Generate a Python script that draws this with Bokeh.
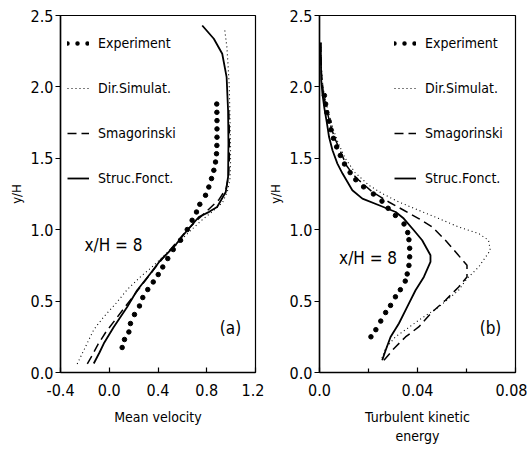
from bokeh.plotting import figure
from bokeh.layouts import row
from bokeh.models import (Range1d, FixedTicker, PrintfTickFormatter, Legend,
                          LegendItem, Label)
from bokeh.embed import file_html
from bokeh.resources import INLINE

# ---------------- data: panel (a) mean velocity ----------------
a_exp_x = [0.106, 0.125, 0.161, 0.174, 0.207, 0.248, 0.275, 0.316, 0.361, 0.402,
           0.439, 0.480, 0.525, 0.585, 0.640, 0.680, 0.716, 0.743, 0.790, 0.817,
           0.839, 0.858, 0.872, 0.880, 0.883, 0.884, 0.884, 0.884, 0.883, 0.882]
a_exp_y = [0.175, 0.231, 0.284, 0.343, 0.406, 0.466, 0.525, 0.581, 0.634, 0.686,
           0.739, 0.798, 0.861, 0.926, 1.001, 1.066, 1.124, 1.178, 1.241, 1.299,
           1.358, 1.416, 1.474, 1.532, 1.590, 1.648, 1.706, 1.764, 1.822, 1.880]

a_dir_x = [-0.263, -0.195, -0.127, -0.045, 0.051, 0.147, 0.256, 0.366, 0.475, 0.557,
           0.650, 0.750, 0.850, 0.930, 0.970, 0.990, 0.995, 0.995, 0.990, 0.985,
           0.975, 0.965, 0.946]
a_dir_y = [0.060, 0.180, 0.300, 0.390, 0.480, 0.580, 0.670, 0.750, 0.840, 0.900,
           0.980, 1.060, 1.130, 1.190, 1.270, 1.350, 1.450, 1.600, 1.800, 2.000,
           2.150, 2.280, 2.410]

a_sma_x = [-0.180, -0.140, -0.090, -0.030, 0.050, 0.130, 0.220, 0.310, 0.400, 0.500,
           0.600, 0.700, 0.800, 0.900, 0.960, 0.980, 0.985, 0.985, 0.980]
a_sma_y = [0.060, 0.120, 0.200, 0.280, 0.370, 0.460, 0.560, 0.660, 0.760, 0.860,
           0.960, 1.050, 1.130, 1.210, 1.290, 1.380, 1.500, 1.700, 1.850]

a_str_x = [-0.127, -0.080, -0.045, 0.037, 0.147, 0.229, 0.338, 0.420, 0.530, 0.640,
           0.735, 0.820, 0.885, 0.956, 0.975, 0.978, 0.975, 0.963, 0.927, 0.858, 0.763]
a_str_y = [0.063, 0.140, 0.203, 0.319, 0.459, 0.576, 0.693, 0.786, 0.879, 0.996,
           1.089, 1.125, 1.159, 1.264, 1.369, 1.603, 1.835, 2.069, 2.232, 2.337, 2.430]

# ---------------- data: panel (b) turbulent kinetic energy ----------------
b_exp_x = [0.0210, 0.0230, 0.0250, 0.0270, 0.0290, 0.0310, 0.0330, 0.0350, 0.0358,
           0.0365, 0.0368, 0.0368, 0.0365, 0.0360, 0.0345, 0.0310, 0.0280, 0.0255,
           0.0220, 0.0180, 0.0148, 0.0125, 0.0102, 0.0085, 0.0070, 0.0057, 0.0047,
           0.0039, 0.0030, 0.0025, 0.0020]
b_exp_y = [0.25, 0.30, 0.36, 0.42, 0.47, 0.53, 0.58, 0.64, 0.69, 0.75, 0.81, 0.87,
           0.93, 0.98, 1.04, 1.10, 1.15, 1.20, 1.25, 1.30, 1.35, 1.40, 1.46, 1.52,
           1.58, 1.64, 1.70, 1.76, 1.82, 1.88, 1.94]

b_dir_x = [0.0255, 0.0270, 0.0310, 0.0360, 0.0405, 0.0487, 0.0568, 0.0602, 0.0650,
           0.0697, 0.0690, 0.0650, 0.0568, 0.0487, 0.0405, 0.0324, 0.0256, 0.0202,
           0.0145, 0.0105, 0.0078, 0.0057, 0.0040, 0.0026, 0.0014, 0.0007, 0.0005]
b_dir_y = [0.100, 0.170, 0.250, 0.310, 0.366, 0.459, 0.576, 0.658, 0.739, 0.856,
           0.926, 0.973, 1.019, 1.078, 1.136, 1.194, 1.253, 1.311, 1.400, 1.500,
           1.600, 1.700, 1.800, 1.900, 2.000, 2.150, 2.310]

b_sma_x = [0.0263, 0.0304, 0.0351, 0.0405, 0.0460, 0.0514, 0.0568, 0.0602, 0.0602,
           0.0561, 0.0514, 0.0460, 0.0405, 0.0344, 0.0283, 0.0216, 0.0161, 0.0134,
           0.0110, 0.0085, 0.0060, 0.0042, 0.0028, 0.0016, 0.0008, 0.0005]
b_sma_y = [0.086, 0.168, 0.249, 0.319, 0.424, 0.506, 0.599, 0.669, 0.751, 0.833,
           0.926, 1.019, 1.078, 1.136, 1.194, 1.264, 1.346, 1.393, 1.450, 1.550,
           1.650, 1.750, 1.850, 1.950, 2.100, 2.310]

b_str_x = [0.0256, 0.0270, 0.0290, 0.0324, 0.0358, 0.0392, 0.0426, 0.0453, 0.0453,
           0.0419, 0.0385, 0.0344, 0.0311, 0.0243, 0.0175, 0.0134, 0.0094, 0.0073,
           0.0053, 0.0039, 0.0030, 0.0020, 0.0012, 0.0007, 0.0005]
b_str_y = [0.086, 0.156, 0.249, 0.343, 0.459, 0.576, 0.669, 0.774, 0.821, 0.926,
           0.996, 1.078, 1.124, 1.171, 1.218, 1.276, 1.393, 1.463, 1.556, 1.649,
           1.750, 1.850, 1.950, 2.050, 2.310]

series_names = ["Experiment", "Dir.Simulat.", "Smagorinski", "Struc.Fonct."]
y_ticks = [0.0, 0.5, 1.0, 1.5, 2.0, 2.5]
a_x_ticks = [-0.4, 0.0, 0.4, 0.8, 1.2]
b_x_ticks = [0.0, 0.04, 0.08]
b_x_minor = [0.02, 0.06]

FONT = "DejaVu Sans Condensed, Liberation Sans, sans-serif"
INK = "black"


def make_panel(width, bl, br, xr, xticks, xminor, xfmt, xlabel, data,
               leg_loc, note, note_xy, tag, tag_xy):
    p = figure(width=width, height=450, x_range=Range1d(*xr),
               y_range=Range1d(0, 2.5), output_backend="svg",
               toolbar_location=None, min_border_left=bl, min_border_right=br,
               min_border_top=15, min_border_bottom=78)
    # a range far away from the visible one: used only by the legend sample
    p.extra_y_ranges = {"legend_only": Range1d(100, 102.5)}
    p.xgrid.visible = False
    p.ygrid.visible = False
    p.outline_line_color = INK
    p.outline_line_width = 1.2
    p.background_fill_color = "white"
    p.border_fill_color = "white"

    for ax in (p.xaxis[0], p.yaxis[0]):
        ax.axis_line_width = 1.5
        ax.axis_line_color = INK
        ax.major_tick_line_width = 1.2
        ax.major_tick_line_color = INK
        ax.minor_tick_line_width = 1.2
        ax.minor_tick_line_color = INK
        ax.major_label_text_font = FONT
        ax.major_label_text_font_size = "16px"
        ax.major_label_text_color = INK
        ax.axis_label_text_font = FONT
        ax.axis_label_text_font_size = "14px"
        ax.axis_label_text_font_style = "normal"
        ax.axis_label_text_color = INK

    xa = p.xaxis[0]
    xa.ticker = FixedTicker(ticks=xticks, minor_ticks=xminor)
    xa.major_tick_in = 5
    xa.major_tick_out = 0
    xa.minor_tick_in = 4
    xa.minor_tick_out = 0
    xa.formatter = PrintfTickFormatter(format=xfmt)
    xa.major_label_overrides = {0: "0.0"}
    xa.major_label_standoff = 11
    xa.axis_label = xlabel
    xa.axis_label_standoff = 10

    ya = p.yaxis[0]
    ya.ticker = FixedTicker(ticks=y_ticks, minor_ticks=[])
    ya.major_tick_in = 0
    ya.major_tick_out = 5
    ya.formatter = PrintfTickFormatter(format="%.1f")
    ya.major_label_standoff = 2
    ya.axis_label = "y/H"
    ya.axis_label_text_font_size = "13px"
    ya.axis_label_standoff = 4

    (ex, ey), (dx, dy), (sx, sy), (tx, ty) = data
    p.scatter(ex, ey, size=4.5, marker="circle", color=INK)
    r_dir = p.line(dx, dy, line_color=INK, line_width=1.1, line_dash="1 3")
    r_sma = p.line(sx, sy, line_color=INK, line_width=1.5, line_dash="9 5")
    r_str = p.line(tx, ty, line_color=INK, line_width=1.8)
    # legend sample for the experiment (a row of round dots); its data are mapped
    # onto the far-away range, so nothing of it shows inside the frame
    r_exp_leg = p.line(ex, ey, y_range_name="legend_only", line_color=INK,
                       line_width=4.5, line_dash="0 10", line_cap="round")

    leg = Legend(items=[LegendItem(label=series_names[0], renderers=[r_exp_leg]),
                        LegendItem(label=series_names[1], renderers=[r_dir]),
                        LegendItem(label=series_names[2], renderers=[r_sma]),
                        LegendItem(label=series_names[3], renderers=[r_str])],
                 location=leg_loc, glyph_width=22, glyph_height=20,
                 label_height=20, label_standoff=9, spacing=25, padding=0,
                 margin=0, border_line_alpha=0, background_fill_alpha=0,
                 label_text_font=FONT, label_text_font_size="14px",
                 label_text_color=INK)
    p.add_layout(leg)

    p.add_layout(Label(x=note_xy[0], y=note_xy[1], text=note, text_font=FONT,
                       text_font_size="17px", text_baseline="middle",
                       text_align="left", text_color=INK))
    p.add_layout(Label(x=tag_xy[0], y=tag_xy[1], text=tag, text_font=FONT,
                       text_font_size="17px", text_baseline="middle",
                       text_align="center", text_color=INK))
    return p


pa = make_panel(264, 60, 9, (-0.4, 1.2), a_x_ticks, [], "%.1f", "Mean velocity",
                [(a_exp_x, a_exp_y), (a_dir_x, a_dir_y), (a_sma_x, a_sma_y),
                 (a_str_x, a_str_y)],
                (7, 184), "x/H = 8", (-0.203, 0.89), "(a)", (0.995, 0.315))
pb = make_panel(263, 54, 12, (0.0, 0.08), b_x_ticks, b_x_minor, "%.2f",
                "Turbulent kinetic\nenergy",
                [(b_exp_x, b_exp_y), (b_dir_x, b_dir_y), (b_sma_x, b_sma_y),
                 (b_str_x, b_str_y)],
                (75, 184), "x/H = 8", (0.008, 0.80), "(b)", (0.0698, 0.315))

layout = row(pa, pb)
open("out.html", "w").write(file_html(layout, INLINE))
